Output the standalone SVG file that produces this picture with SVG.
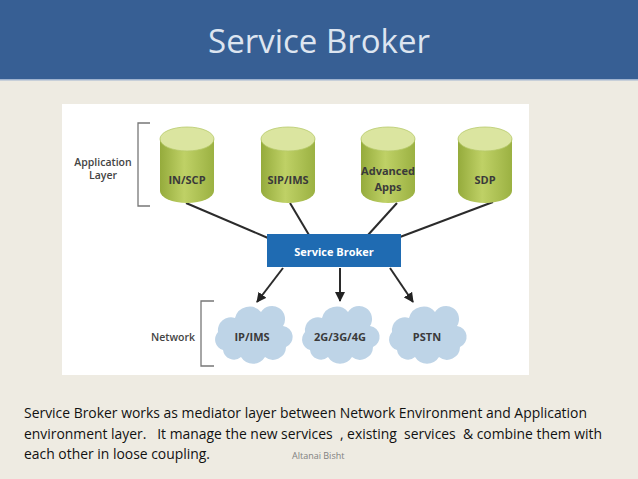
<svg xmlns="http://www.w3.org/2000/svg" width="638" height="479" viewBox="0 0 638 479">
<defs>
<linearGradient id="cylBody" x1="0" y1="0" x2="1" y2="0">
<stop offset="0" stop-color="#95ab3c"/>
<stop offset="0.45" stop-color="#bfd166"/>
<stop offset="1" stop-color="#9bb142"/>
</linearGradient>
<marker id="arr" viewBox="0 0 10 10" refX="9" refY="5" markerWidth="5" markerHeight="5" orient="auto" markerUnits="strokeWidth">
<path d="M0,0 L10,5 L0,10 Z" fill="#222"/>
</marker>
<path id="cloud" d="M-30,17 A11 11 0 0 1 -35,-1 A13 13 0 0 1 -18,-15 A15 15 0 0 1 8,-21 A13 13 0 0 1 30,-7 A11 11 0 0 1 33,14 A13 13 0 0 1 12,24 A14 14 0 0 1 -12,24 A11 11 0 0 1 -30,17 Z"/>
</defs>
<style>
.lbl{font-family:"Open Sans","DejaVu Sans",sans-serif;font-weight:700;font-size:11px;fill:#3a3a3a;text-anchor:middle}
.side{font-family:"Open Sans","DejaVu Sans",sans-serif;font-weight:600;font-size:10.5px;fill:#444;text-anchor:middle}
.cylTop{fill:#dbe5a0;stroke:#b6c96a;stroke-width:0.8}
.cylBody{fill:url(#cylBody)}
.cloud{fill:#bed4e7}
.con{stroke:#2b2b2b;stroke-width:2;fill:none}
.brk{stroke:#777;stroke-width:1.3;fill:none}
.body{font-family:"Open Sans","Liberation Sans",sans-serif;font-size:14px;fill:#111;white-space:pre}
</style>
<rect x="0" y="0" width="638" height="479" fill="#eeebe2"/>
<rect x="0" y="0" width="638" height="79" fill="#375f94"/>
<rect x="0" y="79" width="638" height="1.5" fill="#9fb3cf"/>
<text x="319" y="53" font-family="Open Sans, Liberation Sans, sans-serif" font-size="33" fill="#dde5f0" text-anchor="middle">Service Broker</text>
<rect x="62" y="104" width="467" height="271" fill="#ffffff"/>

<g id="app-layer-bracket">
<path class="brk" d="M150,123 H138 V206 H150"/>
<text class="side" x="103" y="166">Application</text>
<text class="side" x="103" y="179">Layer</text>
</g>
<g id="net-bracket">
<path class="brk" d="M214,301 H201 V366 H214"/>
<text class="side" x="173" y="341">Network</text>
</g>

<g id="connectors">
<line class="con" x1="186" y1="203" x2="268" y2="238"/>
<line class="con" x1="290" y1="203" x2="309" y2="235"/>
<line class="con" x1="397" y1="203" x2="368" y2="235"/>
<line class="con" x1="493" y1="202" x2="400" y2="237"/>
<line class="con" x1="283" y1="268" x2="257" y2="302" marker-end="url(#arr)"/>
<line class="con" x1="340" y1="268" x2="340" y2="301" marker-end="url(#arr)"/>
<line class="con" x1="390" y1="268" x2="413" y2="302" marker-end="url(#arr)"/>
</g>

<g id="in-scp">
<path class="cylBody" d="M160,139 V191 A27 12 0 0 0 214,191 V139 Z"/>
<ellipse class="cylTop" cx="187" cy="139" rx="27" ry="12"/>
<text class="lbl" x="187" y="184">IN/SCP</text>
</g>
<g id="sip-ims">
<path class="cylBody" d="M261,139 V191 A27 12 0 0 0 315,191 V139 Z"/>
<ellipse class="cylTop" cx="288" cy="139" rx="27" ry="12"/>
<text class="lbl" x="288" y="184">SIP/IMS</text>
</g>
<g id="advanced-apps">
<path class="cylBody" d="M361,139 V191 A27 12 0 0 0 415,191 V139 Z"/>
<ellipse class="cylTop" cx="388" cy="139" rx="27" ry="12"/>
<text class="lbl" x="388" y="175">Advanced</text>
<text class="lbl" x="388" y="191">Apps</text>
</g>
<g id="sdp">
<path class="cylBody" d="M458,139 V191 A27 12 0 0 0 512,191 V139 Z"/>
<ellipse class="cylTop" cx="485" cy="139" rx="27" ry="12"/>
<text class="lbl" x="485" y="184">SDP</text>
</g>

<g id="service-broker">
<rect x="267" y="234" width="134" height="33" fill="#1f6bb2"/>
<text class="lbl" x="334" y="256" style="fill:#ffffff">Service Broker</text>
</g>

<g id="ip-ims">
<use href="#cloud" class="cloud" transform="translate(253,333)"/>
<text class="lbl" x="252" y="341">IP/IMS</text>
</g>
<g id="g234">
<use href="#cloud" class="cloud" transform="translate(340,333)"/>
<text class="lbl" x="340" y="341">2G/3G/4G</text>
</g>
<g id="pstn">
<use href="#cloud" class="cloud" transform="translate(427,333)"/>
<text class="lbl" x="427" y="341">PSTN</text>
</g>

<text class="body" xml:space="preserve" x="24" y="418" textLength="563" lengthAdjust="spacingAndGlyphs">Service Broker works as mediator layer between Network Environment and Application</text>
<text class="body" xml:space="preserve" x="24" y="439" textLength="578" lengthAdjust="spacingAndGlyphs">environment layer.   It manage the new services  , existing  services  &amp; combine them with</text>
<text class="body" xml:space="preserve" x="24" y="459" textLength="186" lengthAdjust="spacingAndGlyphs">each other in loose coupling.</text>
<text x="292" y="459" font-family="Open Sans, Liberation Sans, sans-serif" font-size="9" fill="#808080">Altanai Bisht</text>
</svg>
